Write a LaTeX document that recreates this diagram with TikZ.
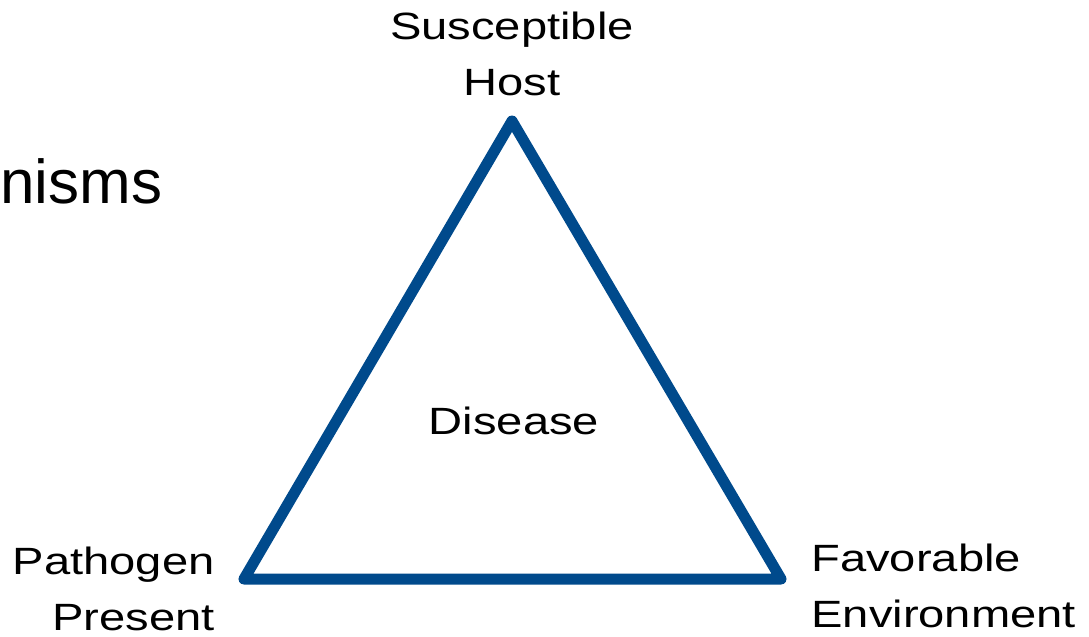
\documentclass[tikz,border=0pt]{standalone}
\usepackage{fontspec}
\setmainfont{Liberation Sans}
\newfontfamily\widefont{Liberation Sans}[FakeStretch=1.24]
\usepackage{tikz}
\usetikzlibrary{positioning}

\definecolor{triblue}{RGB}{0,74,140}

\tikzset{
    side/.style={draw=triblue, line width=5.5pt, line join=round},
    lbl/.style={font=\widefont\fontsize{19}{28}\selectfont, inner sep=0pt}
}

\begin{document}
\begin{tikzpicture}[x=0.5pt, y=-0.5pt]
    \useasboundingbox (0,0) rectangle (1089,637);
    \coordinate (H) at (512,121);
    \coordinate (P) at (244,579);
    \coordinate (E) at (781,579);

    \draw[side] (H) -- (P) -- (E) -- cycle;

    \node[lbl, anchor=base, align=center] (Hi) at (512,95) {Susceptible\\Host};
    \node[lbl, anchor=base east, align=right] (Pi) at (215,630) {Pathogen\\Present};
    \node[lbl, anchor=base west, align=left] (Ei) at (811,627) {Favorable\\Environment};
    \node[lbl, anchor=base] (Di) at (514,434) {Disease};
    \node[font=\fontsize{31}{37}\selectfont, inner sep=0pt, anchor=base west] (Ni) at (0,203) {nisms};
\end{tikzpicture}
\end{document}
